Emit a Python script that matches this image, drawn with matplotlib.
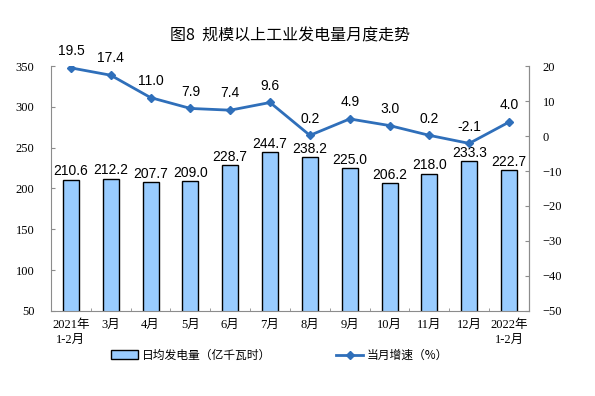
import matplotlib.pyplot as plt
import numpy as np

plt.rcParams['font.family'] = ['Liberation Sans', 'Noto Sans CJK SC']

# 数据
meses = ['2021年\n1-2月', '3月', '4月', '5月', '6月', '7月', '8月', '9月',
         '10月', '11月', '12月', '2022年\n1-2月']
generacion = [210.6, 212.2, 207.7, 209.0, 228.7, 244.7, 238.2, 225.0, 206.2, 218.0, 233.3, 222.7]
crecimiento = [19.5, 17.4, 11.0, 7.9, 7.4, 9.6, 0.2, 4.9, 3.0, 0.2, -2.1, 4.0]

serif_cjk = ['Liberation Serif', 'Noto Sans CJK SC']
gris = '#8c8c8c'
azul = '#2f6fba'

x = np.arange(len(meses))

fig = plt.figure(figsize=(5.95, 3.96), dpi=100)
ax = fig.add_axes([0.0857, 0.215, 0.8033, 0.618])
barras = ax.bar(x, generacion, 0.4, color='#99ccff', edgecolor='black', linewidth=1.0,
                label='日均发电量（亿千瓦时）')
ax.set_ylim(50, 350)
ax.set_xlim(-0.5, len(meses) - 0.5)
ax.set_yticks(range(50, 351, 50))
ax.set_xticks(x)
ax.set_xticklabels(meses, family=serif_cjk, fontsize=9, linespacing=1.25)
ax.set_xticks(x[:-1] + 0.5, minor=True)
for lbl in ax.get_yticklabels():
    lbl.set_family(serif_cjk)
    lbl.set_fontsize(9)
ax.tick_params(axis='y', direction='in', length=3, color=gris, pad=12)
ax.tick_params(axis='x', which='major', length=0, pad=6)
ax.tick_params(axis='x', which='minor', direction='in', length=2, color=gris)
for s in ['left', 'right', 'bottom']:
    ax.spines[s].set_color(gris)
ax.spines['top'].set_visible(False)
ax.bar_label(barras, labels=[f'{v:.1f}' for v in generacion], padding=1, fontsize=10)

ax2 = ax.twinx()
linea, = ax2.plot(x, crecimiento, color=azul, linewidth=2, marker='D', markersize=4,
                  label='当月增速（%）')
ax2.set_ylim(-50, 20)
ax2.set_yticks(range(-50, 21, 10))
for lbl in ax2.get_yticklabels():
    lbl.set_family(serif_cjk)
    lbl.set_fontsize(9)
ax2.tick_params(axis='y', direction='in', length=3, color=gris, pad=10)
ax2.spines['right'].set_color(gris)
ax2.spines['top'].set_visible(False)
ax2.spines['left'].set_visible(False)
ax2.spines['bottom'].set_visible(False)
for xi, v in zip(x, crecimiento):
    ax2.annotate(f'{v:.1f}', (xi, v), xytext=(0, 7), textcoords='offset points',
                 ha='center', va='bottom', fontsize=10)

fig.text(0.488, 0.91, '图8  规模以上工业发电量月度走势', ha='center', va='center',
         fontsize=11.5, family=['Noto Sans CJK SC', 'DejaVu Sans'])

fig.legend([barras, linea], ['日均发电量（亿千瓦时）', '当月增速（%）'],
           loc='center', bbox_to_anchor=(0.47, 0.103), ncol=2, frameon=False,
           handlelength=2.3, handletextpad=0.3, columnspacing=5.5,
           prop={'family': ['Noto Sans CJK SC', 'DejaVu Sans'], 'size': 8.5})

plt.savefig('out.png', dpi=100)
